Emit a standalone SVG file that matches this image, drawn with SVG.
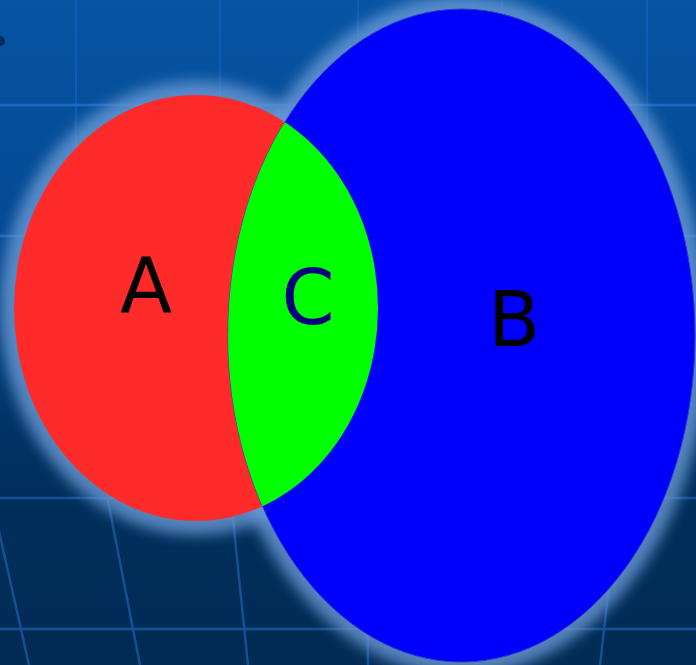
<svg xmlns="http://www.w3.org/2000/svg" width="696" height="665" viewBox="0 0 696 665">
  <defs>
    <linearGradient id="bg" x1="0" y1="0" x2="0" y2="1">
      <stop offset="0" stop-color="#0654a3"/>
      <stop offset="0.35" stop-color="#044a92"/>
      <stop offset="0.7" stop-color="#00305e"/>
      <stop offset="1" stop-color="#022b55"/>
    </linearGradient>
    <filter id="glow" x="-20%" y="-20%" width="140%" height="140%">
      <feGaussianBlur stdDeviation="7"/>
    </filter>
    <clipPath id="clipB">
      <ellipse cx="461.5" cy="335.5" rx="233.5" ry="326.5"/>
    </clipPath>
    <style>
      .gridH { stroke: #1f6fd2; stroke-width: 2.5; fill: none; opacity: 0.8; }
      .gridV { stroke: #1f6fd2; stroke-width: 2; fill: none; opacity: 0.4; }
      .gridB { stroke: #154f94; stroke-width: 2.5; fill: none; }
      .halo { fill: #6a9ad6; opacity: 0.8; filter: url(#glow); }
      .lbl { font-family: "DejaVu Sans", "Liberation Sans", sans-serif; font-size: 76px; text-anchor: middle; }
    </style>
  </defs>

  <rect x="0" y="0" width="696" height="665" fill="url(#bg)"/>

  <g id="grid">
    <line class="gridH" x1="0" y1="105" x2="696" y2="105"/>
    <line class="gridH" x1="0" y1="236" x2="696" y2="236"/>
    <line class="gridV" x1="76" y1="0" x2="76" y2="236"/>
    <line class="gridV" x1="220" y1="0" x2="220" y2="236"/>
    <line class="gridV" x1="358" y1="0" x2="358" y2="105"/>
    <line class="gridV" x1="502" y1="0" x2="502" y2="105"/>
    <line class="gridV" x1="647" y1="0" x2="647" y2="236"/>
    <line class="gridB" x1="0" y1="498" x2="696" y2="498"/>
    <line class="gridB" x1="0" y1="629" x2="696" y2="629"/>
    <line class="gridB" x1="-8" y1="500" x2="29" y2="665"/>
    <line class="gridB" x1="104" y1="480" x2="140" y2="665"/>
    <line class="gridB" x1="231" y1="500" x2="248" y2="665"/>
    <line class="gridB" x1="367" y1="600" x2="368" y2="665"/>
    <line class="gridB" x1="612" y1="560" x2="600" y2="665"/>
    <circle cx="0" cy="41" r="5" fill="#0a2a52"/>
  </g>

  <g id="glow-layer">
    <ellipse class="halo" cx="196" cy="308" rx="196" ry="227"/>
    <ellipse class="halo" cx="461.5" cy="335.5" rx="247" ry="340"/>
  </g>

  <g id="A">
    <ellipse cx="196" cy="308" rx="182" ry="213" fill="#ff2b2b"/>
    <text class="lbl" x="146" y="312" fill="#000000">A</text>
  </g>

  <g id="B">
    <ellipse cx="461.5" cy="335.5" rx="233.5" ry="326.5" fill="#0000ff" stroke="#2a3bd0" stroke-width="1"/>
    <text class="lbl" x="514" y="346" fill="#000000">B</text>
  </g>

  <g id="C">
    <ellipse cx="196" cy="308" rx="182" ry="213" fill="#00ff00" clip-path="url(#clipB)"/>
    <text class="lbl" x="308" y="324" fill="#000080">C</text>
  </g>
</svg>
